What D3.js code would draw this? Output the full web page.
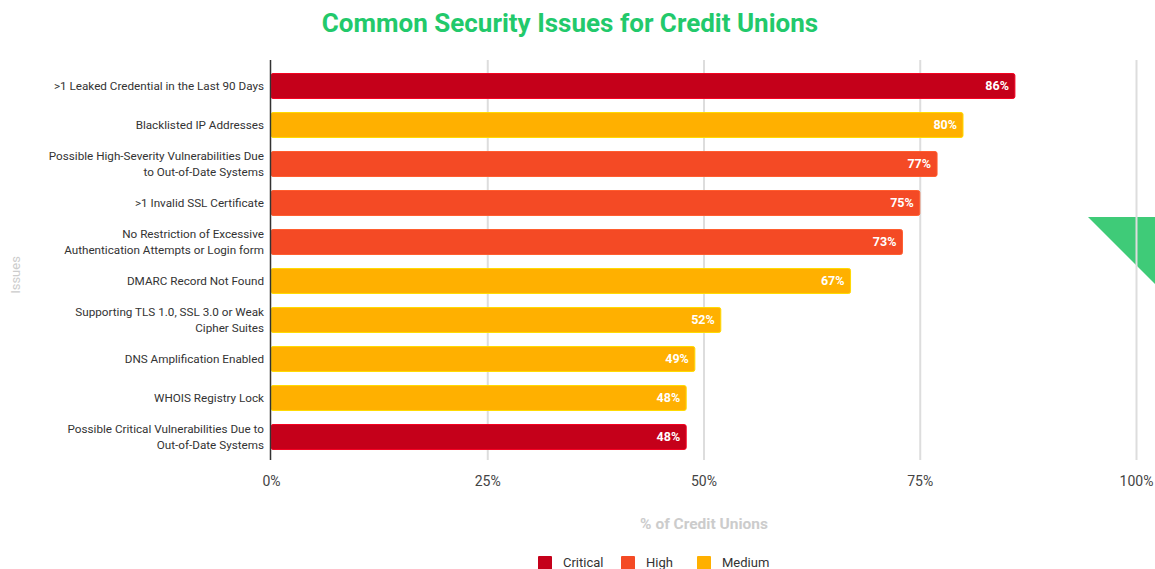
<!DOCTYPE html>
<html><head><meta charset="utf-8">
<script src="https://cdn.jsdelivr.net/npm/d3@7"></script>
<style>body{margin:0;background:#fff;}svg{display:block;font-family:Roboto,"Noto Sans",sans-serif;}</style>
</head><body>
<svg id="chart" width="1155" height="569"></svg>
<script>
const categories = [
  ">1 Leaked Credential in the Last 90 Days",
  "Blacklisted IP Addresses",
  "Possible High-Severity Vulnerabilities Due|to Out-of-Date Systems",
  ">1 Invalid SSL Certificate",
  "No Restriction of Excessive|Authentication Attempts or Login form",
  "DMARC Record Not Found",
  "Supporting TLS 1.0, SSL 3.0 or Weak|Cipher Suites",
  "DNS Amplification Enabled",
  "WHOIS Registry Lock",
  "Possible Critical Vulnerabilities Due to|Out-of-Date Systems"
];
const values = [86, 80, 77, 75, 73, 67, 52, 49, 48, 48];
const severity = ["Critical","Medium","High","High","High","Medium","Medium","Medium","Medium","Critical"];
const severityLevels = ["Critical","High","Medium"];
const severityColors = ["#c5001a","#f44a25","#ffb000"];
const xTicks = [0, 25, 50, 75, 100];

const svg = d3.select("#chart");
const margin = {left:271, right:19, top:67, bottom:113};
const W = 1155, H = 569;

const x = d3.scaleLinear().domain([0,100]).range([margin.left, W - margin.right]);
const y = d3.scaleBand().domain(categories).range([66.5, 456.5]).paddingInner(0.36).paddingOuter(0.18);
const color = d3.scaleOrdinal().domain(severityLevels).range(severityColors);

// green decorative triangle
svg.append("path").attr("d","M1088,217 L1155,217 L1155,284 Z").attr("fill","#3fcb78");

// title
svg.append("text").attr("x",570).attr("y",32).attr("text-anchor","middle")
  .attr("font-size",26).attr("font-weight","bold").attr("fill","#22c96b")
  .text("Common Security Issues for Credit Unions");

// gridlines
svg.append("g").selectAll("line").data(xTicks.slice(1)).join("line")
  .attr("x1",d=>x(d)+0.5).attr("x2",d=>x(d)+0.5).attr("y1",60).attr("y2",460)
  .attr("stroke","#dddddd").attr("stroke-width",2);

// x axis tick labels
const xAxis = d3.axisBottom(x).tickValues(xTicks).tickFormat(d=>d+"%").tickSize(0).tickPadding(0);
const gx = svg.append("g").attr("transform","translate(0,486)").call(xAxis);
gx.select(".domain").remove();
gx.selectAll("text").attr("font-size",14).attr("fill","#444").attr("font-family","Roboto, sans-serif").attr("dy","0");

// bars
const bars = svg.append("g");
bars.selectAll("rect").data(values).join("rect")
  .attr("x", x(0)).attr("y",(d,i)=>y(categories[i]))
  .attr("width", d=>x(d)-x(0)).attr("height", y.bandwidth())
  .attr("rx",2).attr("fill",(d,i)=>color(severity[i]))
  .attr("stroke",(d,i)=>d3.color(color(severity[i])).brighter(0.6)).attr("stroke-width",1);

// value labels
bars.selectAll("text").data(values).join("text")
  .attr("x", d=>x(d)-6).attr("y",(d,i)=>y(categories[i])+y.bandwidth()/2)
  .attr("dy","0.35em").attr("text-anchor","end")
  .attr("font-size",12.5).attr("font-weight","bold").attr("fill","#fff")
  .text(d=>d+"%");

// y axis line
svg.append("line").attr("x1",x(0)-0.5).attr("x2",x(0)-0.5).attr("y1",60).attr("y2",460)
  .attr("stroke","#333").attr("stroke-width",1.5);

// category labels
const yAxis = d3.axisLeft(y).tickSize(0).tickPadding(7).tickFormat("");
const gy = svg.append("g").attr("transform",`translate(${x(0)},0)`).call(yAxis);
gy.select(".domain").remove();
gy.selectAll(".tick").each(function(d){
  const lines = d.split("|");
  const t = d3.select(this).append("text").attr("x",-7).attr("text-anchor","end")
    .attr("font-size",11.7).attr("fill","#333").attr("font-family","Roboto, sans-serif");
  lines.forEach((ln,k)=>{
    t.append("tspan").attr("x",-7).attr("dy", k===0 ? ((lines.length===1? 0.35 : -0.35)+"em") : "1.35em").text(ln);
  });
});

// axis titles
svg.append("text").attr("x",704).attr("y",529).attr("text-anchor","middle")
  .attr("font-size",15.5).attr("font-weight","bold").attr("fill","#cccccc").text("% of Credit Unions");
svg.append("text").attr("transform","translate(20,275) rotate(-90)").attr("text-anchor","middle")
  .attr("font-size",13).attr("fill","#cccccc").text("Issues");

// legend
const legendX = [538, 621, 697];
const lg = svg.append("g");
severityLevels.forEach((s,i)=>{
  lg.append("rect").attr("x",legendX[i]).attr("y",556).attr("width",14).attr("height",14)
    .attr("rx",1).attr("fill",color(s));
  lg.append("text").attr("x",legendX[i]+25).attr("y",567).attr("font-size",13).attr("fill","#333").text(s);
});
</script>
</body></html>
